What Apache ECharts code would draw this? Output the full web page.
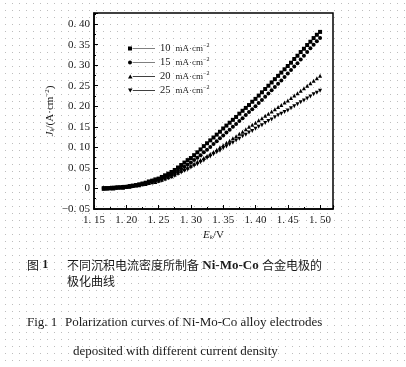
<!DOCTYPE html>
<html>
<head>
<meta charset="utf-8">
<script src="https://cdn.jsdelivr.net/npm/echarts@6/dist/echarts.min.js"></script>
<style>
html,body{margin:0;padding:0;background:#fff;}
#c{width:406px;height:367px;}
</style>
</head>
<body>
<div id="c"></div>
<script>
// Potential E (V)
const E = [
1.165,1.170,1.175,1.180,1.185,1.190,1.195,1.200,1.205,1.210,
1.215,1.220,1.225,1.230,1.235,1.240,1.245,1.250,1.255,1.260,
1.265,1.270,1.275,1.280,1.285,1.290,1.295,1.300,1.305,1.310,
1.315,1.320,1.325,1.330,1.335,1.340,1.345,1.350,1.355,1.360,
1.365,1.370,1.375,1.380,1.385,1.390,1.395,1.400,1.405,1.410,
1.415,1.420,1.425,1.430,1.435,1.440,1.445,1.450,1.455,1.460,
1.465,1.470,1.475,1.480,1.485,1.490,1.495,1.500];
const seriesNames = ['10','15','20','25'];
const J10 = [
0.000,0.001,0.000,0.002,0.002,0.003,0.003,0.004,0.005,0.007,
0.008,0.010,0.012,0.014,0.017,0.019,0.022,0.024,0.028,0.032,
0.036,0.040,0.045,0.051,0.057,0.063,0.069,0.074,0.081,0.088,
0.095,0.103,0.110,0.117,0.124,0.131,0.138,0.146,0.153,0.160,
0.167,0.174,0.182,0.189,0.196,0.203,0.211,0.218,0.226,0.234,
0.242,0.250,0.258,0.266,0.274,0.282,0.290,0.298,0.306,0.315,
0.323,0.332,0.340,0.349,0.357,0.366,0.374,0.381];
const J15 = [
0.001,0.000,0.001,0.001,0.003,0.002,0.004,0.004,0.006,0.006,
0.008,0.009,0.011,0.013,0.015,0.017,0.020,0.022,0.025,0.028,
0.032,0.035,0.039,0.043,0.048,0.053,0.058,0.063,0.069,0.075,
0.081,0.088,0.094,0.101,0.108,0.115,0.122,0.129,0.136,0.143,
0.150,0.157,0.164,0.171,0.179,0.186,0.193,0.200,0.208,0.215,
0.223,0.231,0.239,0.247,0.255,0.263,0.271,0.280,0.288,0.297,
0.305,0.314,0.323,0.332,0.341,0.350,0.358,0.366];
const J20 = [
-0.001,0.000,0.001,0.000,0.002,0.003,0.002,0.004,0.004,0.006,
0.007,0.008,0.010,0.011,0.013,0.015,0.016,0.019,0.021,0.024,
0.027,0.030,0.034,0.038,0.043,0.047,0.051,0.055,0.060,0.065,
0.069,0.074,0.079,0.084,0.089,0.094,0.100,0.105,0.111,0.116,
0.122,0.127,0.133,0.138,0.144,0.150,0.155,0.160,0.166,0.171,
0.177,0.182,0.187,0.193,0.198,0.203,0.209,0.214,0.220,0.226,
0.232,0.238,0.244,0.250,0.256,0.262,0.268,0.274];
const J25 = [
0.000,-0.001,0.001,0.001,0.001,0.002,0.003,0.003,0.005,0.005,
0.007,0.008,0.009,0.011,0.012,0.014,0.015,0.017,0.019,0.022,
0.025,0.028,0.031,0.035,0.039,0.043,0.046,0.051,0.055,0.059,
0.064,0.068,0.074,0.078,0.083,0.088,0.092,0.098,0.102,0.107,
0.111,0.117,0.121,0.127,0.131,0.136,0.140,0.145,0.150,0.154,
0.159,0.164,0.168,0.173,0.178,0.182,0.186,0.190,0.195,0.200,
0.205,0.210,0.214,0.219,0.224,0.229,0.233,0.238];

// dotted paper background
(function(){
  const cv = document.createElement('canvas');
  cv.width = 7; cv.height = 7;
  const g = cv.getContext('2d');
  g.fillStyle = '#bdbdbd';
  g.fillRect(3,3,1,1);
  const el = document.getElementById('c');
  el.style.backgroundImage = 'url(' + cv.toDataURL() + ')';
  el.style.backgroundPosition = '2px 0px';
})();

const serif = '"Liberation Serif","DejaVu Serif",serif';
const cjk = '"Noto Sans CJK SC","Liberation Serif",serif';
const ink = '#1a1a1a';

const symbols = ['rect','circle','triangle','triangle'];
const rotates = [0,0,0,180];
const icons = [
  'path://M0,0.5H4V4.5H0Z M4.5,2.2H27V2.8H4.5Z',
  'path://M0,2.5A2,2 0 1,0 4,2.5A2,2 0 1,0 0,2.5Z M4.5,2.2H27V2.8H4.5Z',
  'path://M2,0.3L4.3,4.5H-0.3Z M4.5,2.2H27V2.8H4.5Z',
  'path://M-0.3,0.5H4.3L2,4.7Z M4.5,2.2H27V2.8H4.5Z'
];
const allJ = [J10, J15, J20, J25];

const chart = echarts.init(document.getElementById('c'), null, {renderer:'canvas'});
chart.setOption({
  animation: false,
  backgroundColor: 'transparent',
  grid: {left: 94, top: 13, width: 239, height: 196, show: true,
         borderColor: '#000', borderWidth: 1.5, backgroundColor: 'transparent'},
  legend: {
    orient: 'vertical', left: 123, top: 37, itemGap: 1,
    itemWidth: 27, itemHeight: 5,
    data: seriesNames.map((n,i)=>({name:n, icon: icons[i]})),
    formatter: n => '{a|' + n + '}  {b|mA·cm}{s|−2}',
    textStyle: {
      color: ink, fontFamily: serif, fontSize: 10, lineHeight: 13,
      rich: {
        a: {fontFamily: serif, fontSize: 10.5, color: ink},
        b: {fontFamily: serif, fontSize: 9, color: ink},
        s: {fontFamily: serif, fontSize: 6, color: ink, verticalAlign: 'top', padding:[0,0,5,0]}
      }
    }
  },
  xAxis: {
    type: 'value', min: 1.15, max: 1.52, interval: 0.05,
    axisLine: {show: true, onZero: false, lineStyle: {color: '#000', width: 1.5}},
    axisTick: {show: true, inside: true, length: 4, lineStyle: {color: '#000'}},
    minorTick: {show: true, splitNumber: 2, length: 2, lineStyle: {color: '#000'}},
    splitLine: {show: false},
    axisLabel: {show: true, showMaxLabel: false, color: ink, fontFamily: serif, fontSize: 11, margin: 6,
      formatter: v => v.toFixed(2).replace('.', '. ')},
    name: '{i|E}{sub|k}{n|/V}', nameLocation: 'middle', nameGap: 20, nameMoveOverlap: false,
    nameTextStyle: {
      rich: {
        i: {fontFamily: serif, fontStyle: 'italic', fontSize: 11, color: ink},
        sub: {fontFamily: serif, fontStyle: 'italic', fontSize: 7, color: ink, verticalAlign: 'bottom', padding: [5,0,0,0]},
        n: {fontFamily: serif, fontSize: 11, color: ink}
      }
    }
  },
  yAxis: {
    type: 'value', min: -0.05, max: 0.427, interval: 0.05,
    axisLine: {show: true, onZero: false, lineStyle: {color: '#000', width: 1.5}},
    axisTick: {show: true, inside: true, length: 4, lineStyle: {color: '#000'}},
    minorTick: {show: true, splitNumber: 2, length: 2, lineStyle: {color: '#000'}},
    splitLine: {show: false},
    axisLabel: {show: true, showMaxLabel: false, color: ink, fontFamily: serif, fontSize: 11, margin: 4,
      formatter: v => Math.abs(v) < 1e-9 ? '0' : (v < 0 ? '−' : '') + Math.abs(v).toFixed(2).replace('.', '. ')},
    name: '{i|J}{sub|k}{n|/(A·cm}{sup|−2}{n|)}', nameLocation: 'middle', nameGap: 38, nameRotate: 90, nameMoveOverlap: false,
    nameTextStyle: {
      rich: {
        i: {fontFamily: serif, fontStyle: 'italic', fontSize: 11, color: ink},
        sub: {fontFamily: serif, fontStyle: 'italic', fontSize: 7, color: ink, verticalAlign: 'bottom', padding: [5,0,0,0]},
        n: {fontFamily: serif, fontSize: 11, color: ink},
        sup: {fontFamily: serif, fontSize: 7, color: ink, verticalAlign: 'top', padding: [0,0,5,0]}
      }
    }
  },
  series: seriesNames.map((n,i)=>({
    name: n, type: 'line',
    data: E.map((e,k)=>[e, allJ[i][k]]),
    symbol: symbols[i], symbolRotate: rotates[i], symbolSize: 4,
    showSymbol: true,
    itemStyle: {color: '#000'},
    lineStyle: {width: 0, opacity: 0},
    z: 3
  })),
  graphic: [
    {type: 'text', left: 27, top: 259, style: {
      text: '{a|图} {b|1}', rich: {
        a: {fontFamily: cjk, fontSize: 12, fill: ink},
        b: {fontFamily: serif, fontSize: 12, fontWeight: 'bold', fill: ink}
      }}},
    {type: 'text', left: 67, top: 259, style: {
      text: '{a|不同沉积电流密度所制备} {b|Ni-Mo-Co} {a|合金电极的}', rich: {
        a: {fontFamily: cjk, fontSize: 12, fill: ink},
        b: {fontFamily: serif, fontSize: 13, fontWeight: 'bold', fill: ink}
      }}},
    {type: 'text', left: 67, top: 275, style: {
      text: '极化曲线', fontFamily: cjk, fontSize: 12, fill: ink}},
    {type: 'text', left: 27, top: 316, style: {
      text: 'Fig. 1', fontFamily: serif, fontSize: 13, fill: ink}},
    {type: 'text', left: 65, top: 316, style: {
      text: 'Polarization curves of Ni-Mo-Co alloy electrodes', fontFamily: serif, fontSize: 13, fill: ink}},
    {type: 'text', left: 73, top: 345, style: {
      text: 'deposited with different current density', fontFamily: serif, fontSize: 13, fill: ink}}
  ]
});
</script>
</body>
</html>
